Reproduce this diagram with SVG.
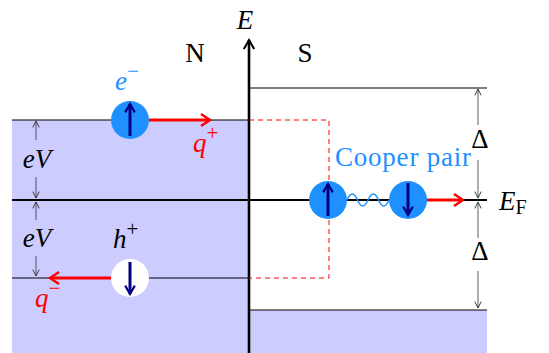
<svg xmlns="http://www.w3.org/2000/svg" width="549" height="353" viewBox="0 0 549 353">
<defs>
<style>
.t{font-family:"Liberation Serif",serif;font-size:27px;fill:#000}
.i{font-style:italic}
.sup{font-size:21px;font-style:normal}
.thin{stroke:#000;stroke-width:1;fill:none}
.dim{stroke:#333;stroke-width:0.8;fill:none}
.red{stroke:#ff0000;stroke-width:3;fill:none}
.spin{stroke:#000080;stroke-width:3;fill:none}
</style>
<marker id="ah" viewBox="0 0 10 10" refX="9" refY="5" markerWidth="8" markerHeight="8" markerUnits="userSpaceOnUse" orient="auto"><path d="M1,1 L9,5 L1,9" fill="none" stroke="#333" stroke-width="1.2"/></marker>
<marker id="rh" viewBox="0 0 10 10" refX="8" refY="5" markerWidth="5" markerHeight="5" orient="auto"><path d="M2,1 L8,5 L2,9" fill="none" stroke="#ff0000" stroke-width="1.6"/></marker>
<marker id="sh" viewBox="0 0 10 10" refX="8" refY="5" markerWidth="4" markerHeight="4" orient="auto"><path d="M1,1 L8,5 L1,9" fill="none" stroke="#000080" stroke-width="1.8"/></marker>
<marker id="kh" viewBox="0 0 10 10" refX="8" refY="5" markerWidth="5" markerHeight="5" orient="auto"><path d="M1,1 L8,5 L1,9" fill="none" stroke="#000" stroke-width="1.6"/></marker>
</defs>
<g id="bands">
<rect x="12" y="120" width="237" height="233" fill="#ccccff"/>
<rect x="249" y="310" width="238" height="43" fill="#ccccff"/>
<line class="thin" x1="12" y1="120" x2="249" y2="120"/>
<line class="thin" x1="12" y1="278" x2="249" y2="278"/>
<line class="thin" x1="249" y1="88" x2="487" y2="88"/>
<line class="thin" x1="249" y1="310" x2="487" y2="310"/>
<line x1="12" y1="200" x2="487" y2="200" stroke="#000" stroke-width="2"/>
</g>
<g id="axis">
<line x1="249" y1="353" x2="249" y2="40" stroke="#000" stroke-width="2.6" marker-end="url(#kh)"/>
<text class="t i" x="245" y="29" text-anchor="middle">E</text>
<text class="t" x="195" y="62" text-anchor="middle">N</text>
<text class="t" x="305" y="62" text-anchor="middle">S</text>
</g>
<g id="connectors">
<path d="M249,120 H329 V278 H249" fill="none" stroke="#ff0000" stroke-width="1" stroke-dasharray="5,4"/>
<line class="red" x1="148" y1="120" x2="210" y2="120" marker-end="url(#rh)"/>
<line class="red" x1="112" y1="278" x2="50" y2="278" marker-end="url(#rh)"/>
<line class="red" x1="426" y1="200" x2="463" y2="200" marker-end="url(#rh)"/>
<path d="M347,200 c3.5,-8 7,-8 10.5,0 s7,8 10.5,0 s7,-8 10.5,0 s7,8 10.5,0" fill="none" stroke="#1e90ff" stroke-width="1.5"/>
<line class="dim" x1="36" y1="140" x2="36" y2="121" marker-end="url(#ah)"/>
<line class="dim" x1="36" y1="177" x2="36" y2="198" marker-end="url(#ah)"/>
<line class="dim" x1="36" y1="220" x2="36" y2="202" marker-end="url(#ah)"/>
<line class="dim" x1="36" y1="256" x2="36" y2="276" marker-end="url(#ah)"/>
<line class="dim" x1="478" y1="125" x2="478" y2="89" marker-end="url(#ah)"/>
<line class="dim" x1="478" y1="160" x2="478" y2="198" marker-end="url(#ah)"/>
<line class="dim" x1="478" y1="238" x2="478" y2="202" marker-end="url(#ah)"/>
<line class="dim" x1="478" y1="271" x2="478" y2="308" marker-end="url(#ah)"/>
</g>
<g id="electron">
<circle cx="130" cy="120" r="19" fill="#1e90ff"/>
<line class="spin" x1="130" y1="136" x2="130" y2="104" marker-end="url(#sh)"/>
<text class="t i" x="115" y="90" style="fill:#1e90ff">e<tspan class="sup" dy="-12">−</tspan></text>
<text class="t i" x="193" y="152" style="fill:#ff0000">q<tspan class="sup" dy="-12">+</tspan></text>
</g>
<g id="hole">
<circle cx="130" cy="278" r="19" fill="#fff"/>
<line class="spin" x1="130" y1="262" x2="130" y2="294" marker-end="url(#sh)"/>
<text class="t i" x="113" y="248">h<tspan class="sup" dy="-12">+</tspan></text>
<text class="t i" x="35" y="307" style="fill:#ff0000">q<tspan class="sup" dy="-12">−</tspan></text>
</g>
<g id="cooper">
<circle cx="328" cy="200" r="19" fill="#1e90ff"/>
<line class="spin" x1="328" y1="216" x2="328" y2="184" marker-end="url(#sh)"/>
<circle cx="408" cy="200" r="19" fill="#1e90ff"/>
<line class="spin" x1="408" y1="183" x2="408" y2="215" marker-end="url(#sh)"/>
<text class="t" x="335" y="166" textLength="136" style="fill:#1e90ff">Cooper pair</text>
</g>
<g id="labels">
<text class="t i" x="37" y="168" text-anchor="middle">eV</text>
<text class="t i" x="37" y="247" text-anchor="middle">eV</text>
<text class="t" x="480" y="148" text-anchor="middle">Δ</text>
<text class="t" x="480" y="260" text-anchor="middle">Δ</text>
<text class="t i" x="499" y="210">E<tspan dy="4" font-size="20" font-style="normal">F</tspan></text>
</g>
</svg>
